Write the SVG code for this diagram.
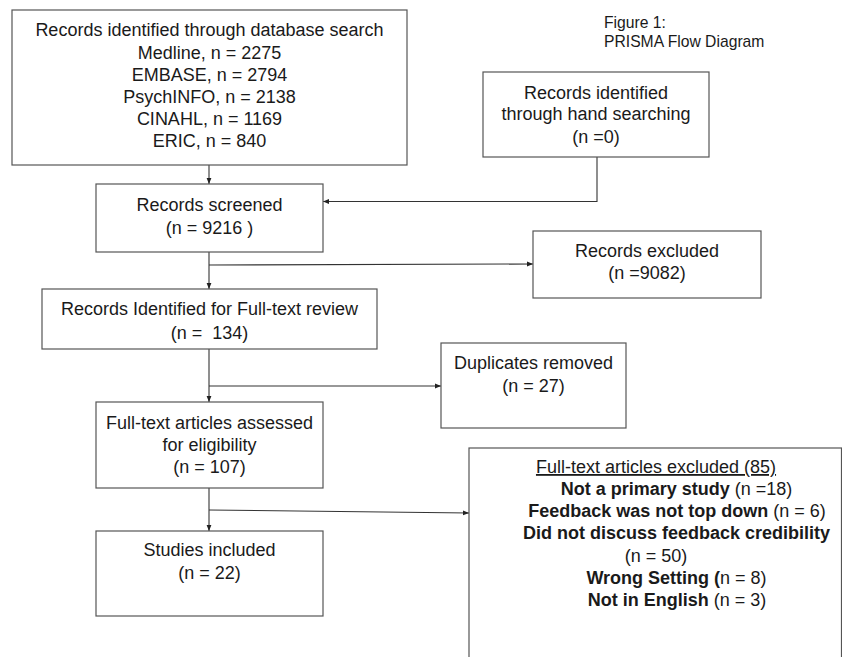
<svg xmlns="http://www.w3.org/2000/svg" width="842" height="657" viewBox="0 0 842 657">
<defs>
<style>
.box{fill:#fff;stroke:#555;stroke-width:1.2}
.t{font-family:"Liberation Sans",Arial,sans-serif;font-size:18px;fill:#1a1a1a;text-anchor:middle}
.cap{font-family:"Liberation Sans",Arial,sans-serif;font-size:15.7px;fill:#1a1a1a}
.b{font-weight:bold}
.c{fill:none;stroke:#333;stroke-width:1.1}
</style>
<marker id="ah" viewBox="0 0 10 10" refX="10" refY="5" markerWidth="6" markerHeight="6" markerUnits="userSpaceOnUse" orient="auto">
<path d="M0,1 L10,5 L0,9 Z" fill="#222"/>
</marker>
</defs>
<rect width="842" height="657" fill="#fff"/>
<g id="caption">
<text class="cap" x="604" y="27.5">Figure 1:</text>
<text class="cap" x="604" y="46.5">PRISMA Flow Diagram</text>
</g>
<g id="connectors">
<path class="c" d="M209,165 V184" marker-end="url(#ah)"/>
<path class="c" d="M597,157 V201.5 H323" marker-end="url(#ah)"/>
<path class="c" d="M209,252 V289" marker-end="url(#ah)"/>
<path class="c" d="M209,265 L533,264" marker-end="url(#ah)"/>
<path class="c" d="M209,349 V402" marker-end="url(#ah)"/>
<path class="c" d="M209,386 L441,386" marker-end="url(#ah)"/>
<path class="c" d="M209,488 V531" marker-end="url(#ah)"/>
<path class="c" d="M209,510 L469,513" marker-end="url(#ah)"/>
</g>
<g id="db-search">
<rect class="box" x="12" y="10" width="395" height="155"/>
<text class="t" x="209.5" y="36">Records identified through database search</text>
<text class="t" x="209.5" y="59">Medline, n = 2275</text>
<text class="t" x="209.5" y="81">EMBASE, n = 2794</text>
<text class="t" x="209.5" y="103">PsychINFO, n = 2138</text>
<text class="t" x="209.5" y="125">CINAHL, n = 1169</text>
<text class="t" x="209.5" y="147">ERIC, n = 840</text>
</g>
<g id="hand-search">
<rect class="box" x="483" y="72" width="226" height="85"/>
<text class="t" x="596" y="99">Records identified</text>
<text class="t" x="596" y="120">through hand searching</text>
<text class="t" x="596" y="143">(n =0)</text>
</g>
<g id="screened">
<rect class="box" x="96" y="184" width="227" height="68"/>
<text class="t" x="209.5" y="211">Records screened</text>
<text class="t" x="209.5" y="234">(n = 9216 )</text>
</g>
<g id="records-excluded">
<rect class="box" x="533" y="231" width="228" height="67"/>
<text class="t" x="647" y="257">Records excluded</text>
<text class="t" x="647" y="279">(n =9082)</text>
</g>
<g id="fulltext-review">
<rect class="box" x="42" y="289" width="335" height="60"/>
<text class="t" x="209.5" y="315">Records Identified for Full-text review</text>
<text class="t" x="209.5" y="339" xml:space="preserve">(n =  134)</text>
</g>
<g id="duplicates">
<rect class="box" x="441" y="343" width="185" height="85"/>
<text class="t" x="533.5" y="369">Duplicates removed</text>
<text class="t" x="533.5" y="392">(n = 27)</text>
</g>
<g id="assessed">
<rect class="box" x="96" y="402" width="227" height="86"/>
<text class="t" x="209.5" y="429">Full-text articles assessed</text>
<text class="t" x="209.5" y="451">for eligibility</text>
<text class="t" x="209.5" y="473">(n = 107)</text>
</g>
<g id="included">
<rect class="box" x="96" y="531" width="227" height="85"/>
<text class="t" x="209.5" y="556">Studies included</text>
<text class="t" x="209.5" y="579">(n = 22)</text>
</g>
<g id="fulltext-excluded">
<rect class="box" x="469" y="448" width="372.5" height="230"/>
<text class="t" x="656" y="473" text-decoration="underline">Full-text articles excluded (85)</text>
<text class="t" x="676.5" y="495"><tspan class="b">Not a primary study</tspan> (n =18)</text>
<text class="t" x="677" y="517"><tspan class="b">Feedback was not top down</tspan> (n = 6)</text>
<text class="t" x="676.5" y="539"><tspan class="b">Did not discuss feedback credibility</tspan></text>
<text class="t" x="656" y="562">(n = 50)</text>
<text class="t" x="676.5" y="584"><tspan class="b">Wrong Setting (</tspan>n = 8)</text>
<text class="t" x="677" y="606"><tspan class="b">Not in English</tspan> (n = 3)</text>
</g>
</svg>
